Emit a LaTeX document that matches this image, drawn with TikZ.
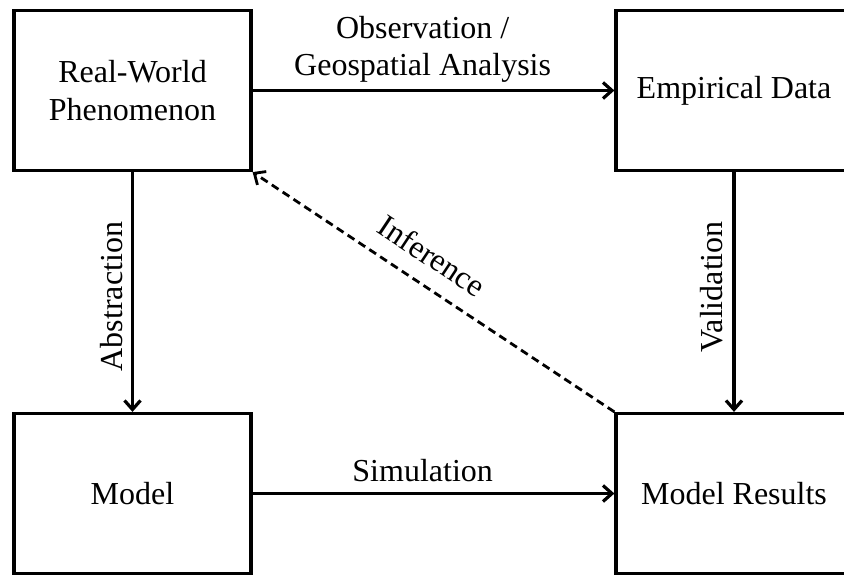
\documentclass[tikz,border=0pt]{standalone}
\usepackage{fontspec}
\setmainfont{Liberation Serif}
\usetikzlibrary{arrows.meta}
\begin{document}
\begin{tikzpicture}[x=1pt,y=-1pt,
  box/.style={draw, line width=3.2pt, minimum width=237pt, minimum height=160pt,
              inner sep=0pt, align=center, font=\fontsize{32}{38}\selectfont},
  lbl/.style={inner sep=0pt, align=center, font=\fontsize{32}{37}\selectfont},
  arr/.style={line width=3.2pt, -{Straight Barb[length=9pt,width=16pt]}},
  infer/.style={arr, line width=2.8pt, dash pattern=on 8pt off 5pt},
]
\useasboundingbox (0,0) rectangle (844,575);
\clip (0,0) rectangle (844,575);

% the four stages
\node[box] (world)   at (132.5,90.5) {Real-World\\Phenomenon};
\node[box, minimum width=236pt] (data)    at (734,90.5)   {Empirical Data};
\node[box] (model)   at (132.5,493.5) {Model};
\node[box, minimum width=236pt] (results) at (734,493.5)  {Model Results};

% transitions between stages
\draw[arr] (world) -- node[lbl, pos=0.47, above=6pt] (obs) {Observation /\\Geospatial Analysis} (data);
\draw[arr] (model) -- node[lbl, pos=0.47, above=10pt] (sim) {Simulation} (results);
\draw[arr] (world.south) -- (model.north);
\draw[arr] (data.south) -- (results.north);
\draw[infer] (results.north west) -- (world.south east);

% labels of the vertical and diagonal transitions
\node[lbl, rotate=90, anchor=base] (abs) at (122,296.5) {Abstraction};
\node[lbl, rotate=90, anchor=base] (val) at (722,287) {Validation};
\node[lbl, rotate=-33.65, anchor=base] (inf) at (426,265) {Inference};
\end{tikzpicture}
\end{document}
